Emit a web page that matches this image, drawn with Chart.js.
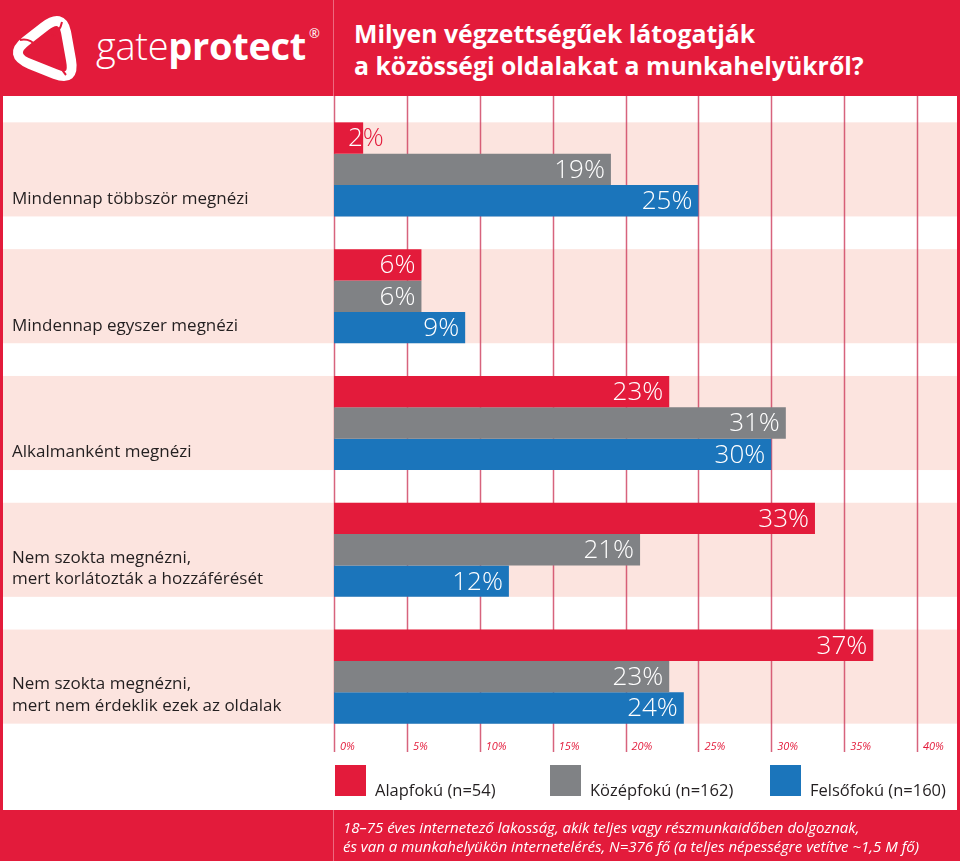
<!DOCTYPE html>
<html lang="hu">
<head>
    <meta charset="UTF-8">
    <title>Közösségi oldalak a munkahelyről</title>
    <style>
        body {
            margin: 0;
            background: #fff;
            font-family: "Open Sans", sans-serif;
        }
        #wrap {
            position: relative;
            width: 960px;
            height: 861px;
            overflow: hidden;
            background: #fff;
        }
        .header {
            position: absolute;
            left: 0;
            top: 0;
            width: 960px;
            height: 96px;
            background: #e31b3b;
        }
        .logo {
            position: absolute;
            left: 0;
            top: 0;
            width: 333px;
            height: 96px;
            border-right: 1px solid rgba(255, 255, 255, 0.35);
        }
        .logo svg {
            position: absolute;
            left: 0;
            top: 0;
        }
        .logo .name {
            position: absolute;
            left: 96px;
            top: 22px;
            font-size: 38px;
            line-height: 38px;
            color: #fff;
            letter-spacing: -0.3px;
            white-space: nowrap;
        }
        .logo .name b { font-weight: 700; }
        .logo .name span { font-weight: 300; }
        .logo .name sup {
            font-size: 13px;
            font-weight: 400;
            position: relative;
            top: -8px;
            margin-left: 3px;
        }
        .title {
            position: absolute;
            left: 354px;
            top: 17px;
            font-size: 24.8px;
            line-height: 32px;
            font-weight: 700;
            color: #fff;
            white-space: nowrap;
        }
        #chartbox {
            position: absolute;
            left: 0;
            top: 96px;
        }
        .legend {
            position: absolute;
            top: 765px;
            left: 0;
            width: 960px;
            height: 32px;
        }
        .legend .item {
            position: absolute;
            top: 0;
            height: 31px;
        }
        .legend .box {
            position: absolute;
            left: 0;
            top: 0;
            width: 31px;
            height: 31px;
        }
        .legend .txt {
            position: absolute;
            left: 40px;
            bottom: -4px;
            font-size: 16.5px;
            line-height: 20px;
            color: #231f20;
            white-space: nowrap;
        }
        .footer {
            position: absolute;
            left: 0;
            top: 810px;
            width: 960px;
            height: 51px;
            background: #e31b3b;
        }
        .footer .note {
            position: absolute;
            left: 333px;
            top: 0;
            height: 51px;
            border-left: 1px solid rgba(255, 255, 255, 0.35);
            padding: 8px 0 0 9px;
            box-sizing: border-box;
            font-size: 15px;
            line-height: 19px;
            font-style: italic;
            color: #fff;
            white-space: nowrap;
        }
        .edge {
            position: absolute;
            top: 0;
            height: 861px;
            width: 3px;
            background: #e31b3b;
        }
    </style>
    <script src="https://cdn.jsdelivr.net/npm/chart.js"></script>
</head>
<body>
<div id="wrap">
    <div class="header">
        <div class="logo">
            <svg width="90" height="96" viewBox="0 0 90 96">
                <path d="M66 32 L71 60 Q75 82 55 74 L30 64 Q8 55 26 41 L44 27 Q62 13 66 32 Z"
                      fill="none" stroke="#fff" stroke-width="10" stroke-linejoin="round"/>
                <path d="M20 40 Q30 38 36 46 M62 22 Q60 32 52 36 M66 75 Q58 66 61 58"
                      fill="none" stroke="#e31b3b" stroke-width="2"/>
            </svg>
            <div class="name"><span>gate</span><b>protect</b><sup>®</sup></div>
        </div>
        <div class="title">Milyen végzettségűek látogatják<br>a közösségi oldalakat a munkahelyükről?</div>
    </div>

    <div id="chartbox">
        <canvas id="chart" width="960" height="714"></canvas>
    </div>

    <div class="legend" id="legend"></div>

    <div class="footer">
        <div class="note">18–75 éves internetező lakosság, akik teljes vagy részmunkaidőben dolgoznak,<br>és van a munkahelyükön internetelérés, N=376 fő (a teljes népességre vetítve ~1,5 M fő)</div>
    </div>
    <div class="edge" style="left:0"></div>
    <div class="edge" style="left:957px"></div>
</div>

<script>
    // kategóriák (sorok)
    const categories = [
        'Mindennap többször megnézi',
        'Mindennap egyszer megnézi',
        'Alkalmanként megnézi',
        ['Nem szokta megnézni,', 'mert korlátozták a hozzáférését'],
        ['Nem szokta megnézni,', 'mert nem érdeklik ezek az oldalak']
    ];

    // végzettség szerinti sorozatok, %
    const seriesNames = ['Alapfokú (n=54)', 'Középfokú (n=162)', 'Felsőfokú (n=160)'];
    const alapfoku = [2, 6, 23, 33, 37];
    const kozepfoku = [19, 6, 31, 21, 23];
    const felsofoku = [25, 9, 30, 12, 24];
    const seriesColors = ['#e31b3b', '#808285', '#1b75bb'];

    const xTickValues = [0, 5, 10, 15, 20, 25, 30, 35, 40];

    const RED = '#e31b3b';
    const BAND = '#fce4df';
    const GRID = 'rgba(205, 60, 92, 0.8)';
    const CAT_PCT = 0.742;

    // legend (HTML)
    const legendLeft = [335, 550, 770];
    const legend = document.getElementById('legend');
    seriesNames.forEach((name, i) => {
        const item = document.createElement('div');
        item.className = 'item';
        item.style.left = legendLeft[i] + 'px';
        item.innerHTML = '<div class="box" style="background:' + seriesColors[i] + '"></div>' +
            '<div class="txt">' + name + '</div>';
        legend.appendChild(item);
    });

    const decorPlugin = {
        id: 'decor',
        beforeDatasetsDraw(chart) {
            const ctx = chart.ctx;
            const x = chart.scales.x;
            const y = chart.scales.y;
            const pitch = y.getPixelForValue(1) - y.getPixelForValue(0);
            const bandH = pitch * CAT_PCT;
            ctx.save();
            // rózsaszín sávok
            ctx.fillStyle = BAND;
            categories.forEach((c, i) => {
                const cy = y.getPixelForValue(i);
                ctx.fillRect(3, cy - bandH / 2, 954, bandH);
            });
            // függőleges rácsvonalak
            ctx.strokeStyle = GRID;
            ctx.lineWidth = 1.5;
            xTickValues.forEach(v => {
                const px = Math.round(x.getPixelForValue(v)) + 0.5;
                ctx.beginPath();
                ctx.moveTo(px, 0);
                ctx.lineTo(px, chart.chartArea.bottom + 12);
                ctx.stroke();
            });
            // tengely feliratok
            ctx.fillStyle = RED;
            ctx.font = 'italic 11px "Open Sans", sans-serif';
            ctx.textAlign = 'left';
            ctx.textBaseline = 'middle';
            xTickValues.forEach(v => {
                ctx.fillText(v + '%', x.getPixelForValue(v) + 6, chart.chartArea.bottom + 7);
            });
            // kategória feliratok
            ctx.fillStyle = '#231f20';
            ctx.font = '17px "Open Sans", sans-serif';
            categories.forEach((c, i) => {
                const lines = Array.isArray(c) ? c : [c];
                const bottom = y.getPixelForValue(i) + bandH / 2;
                lines.forEach((ln, j) => {
                    const ly = bottom - 17.5 - (lines.length - 1 - j) * 21.5;
                    ctx.fillText(ln, 12, ly);
                });
            });
            ctx.restore();
        },
        afterDatasetsDraw(chart) {
            const ctx = chart.ctx;
            ctx.save();
            ctx.font = '300 26px "Open Sans", sans-serif';
            ctx.textAlign = 'left';
            ctx.textBaseline = 'middle';
            chart.data.datasets.forEach((ds, di) => {
                const meta = chart.getDatasetMeta(di);
                meta.data.forEach((el, i) => {
                    const txt = ds.data[i] + '%';
                    const w = ctx.measureText(txt).width;
                    const tx = Math.max(el.base + 14, el.x - 6 - w);
                    const top = el.y - el.height / 2;
                    ctx.save();
                    ctx.beginPath();
                    ctx.rect(el.base, top, el.x - el.base, el.height);
                    ctx.clip();
                    ctx.fillStyle = '#fff';
                    ctx.fillText(txt, tx, el.y + 1);
                    ctx.restore();
                    if (tx + w > el.x) {
                        ctx.save();
                        ctx.beginPath();
                        ctx.rect(el.x, top, 200, el.height);
                        ctx.clip();
                        ctx.fillStyle = ds.backgroundColor;
                        ctx.fillText(txt, tx, el.y + 1);
                        ctx.restore();
                    }
                });
            });
            ctx.restore();
        }
    };

    const ctx = document.getElementById('chart').getContext('2d');
    new Chart(ctx, {
        type: 'bar',
        data: {
            labels: categories,
            datasets: [
                { label: seriesNames[0], data: alapfoku, backgroundColor: seriesColors[0] },
                { label: seriesNames[1], data: kozepfoku, backgroundColor: seriesColors[1] },
                { label: seriesNames[2], data: felsofoku, backgroundColor: seriesColors[2] }
            ]
        },
        options: {
            indexAxis: 'y',
            responsive: false,
            animation: false,
            layout: {
                padding: { left: 334, right: 43, top: 10, bottom: 70 }
            },
            datasets: {
                bar: {
                    barPercentage: 1,
                    categoryPercentage: CAT_PCT,
                    borderWidth: 0
                }
            },
            scales: {
                x: {
                    display: false,
                    min: 0,
                    max: 40
                },
                y: {
                    display: false
                }
            },
            plugins: {
                legend: { display: false },
                tooltip: { enabled: false }
            }
        },
        plugins: [decorPlugin]
    });
</script>
</body>
</html>
